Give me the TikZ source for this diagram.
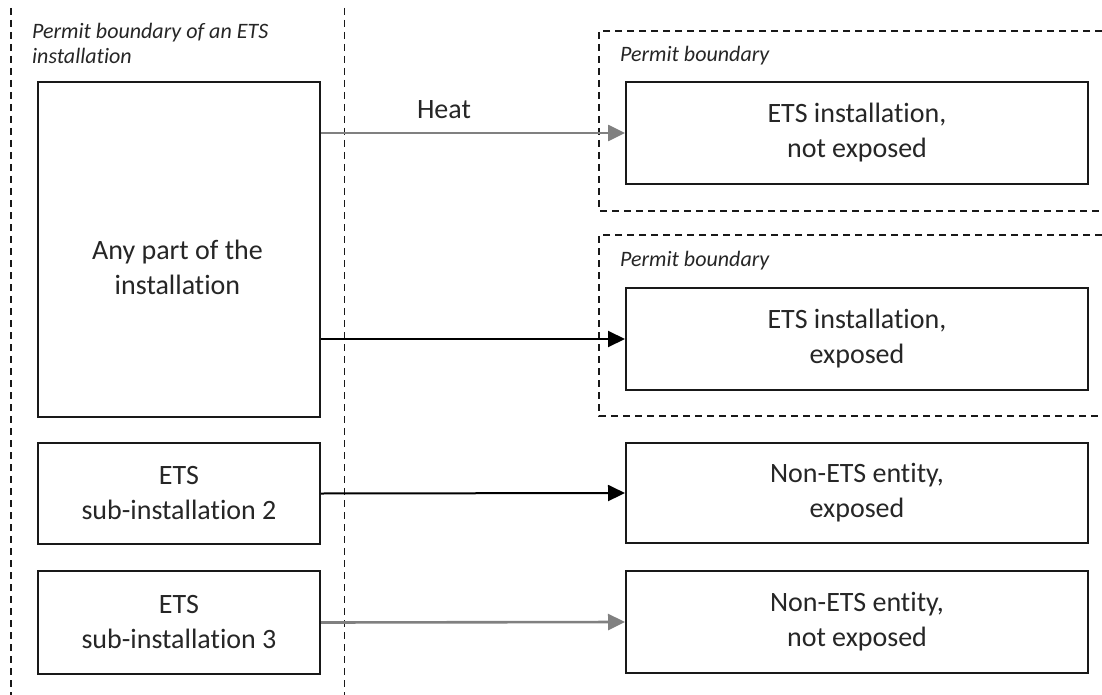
\documentclass[tikz,border=0pt]{standalone}
\usepackage{fontspec}
\setmainfont[Ligatures={NoCommon}]{Carlito}
\usetikzlibrary{arrows.meta}
\definecolor{txt}{RGB}{38,38,38}
\definecolor{arrgray}{RGB}{128,128,128}
\begin{document}
\begin{tikzpicture}[x=1pt,y=-1pt,
  box/.style={draw=black!90, line width=2pt, rectangle, anchor=north west, inner sep=0pt,
    align=center, text=txt, font=\fontsize{28}{35}\selectfont},
  boxtext/.style={text=txt, align=center, font=\fontsize{28}{35}\selectfont, inner sep=0pt},
  lbl/.style={text=txt, font=\fontsize{22}{25.5}\selectfont\itshape, anchor=base west, inner sep=0pt, align=left},
  bound/.style={line width=1.8pt, dash pattern=on 7pt off 5pt, draw=black!90},
  arr/.style={-{Triangle[length=17pt,width=16pt]}, line width=2pt, draw=black},
  garr/.style={-{Triangle[length=17pt,width=16pt]}, line width=2.6pt, draw=arrgray}
]
\useasboundingbox (0,0) rectangle (1102,695);
\fill[white] (0,0) rectangle (1102,695);

% installation boundary dashed lines
\draw[bound] (11,8) -- (11,695);
\draw[bound] (344.5,8) -- (344.5,695);
\node[lbl] (title) at (32,39) {Permit boundary of an ETS};
\node[lbl] (title2) at (32,64) {installation};

% right permit boundaries
\draw[bound] (1102,31) -- (599,31) -- (599,211) -- (1102,211);
\draw[bound] (1102,235) -- (599,235) -- (599,416) -- (1102,416);
\node[lbl] (pb1) at (620,62) {Permit boundary};
\node[lbl] (pb2) at (620,266) {Permit boundary};

% left boxes
\node[box, minimum width=282pt, minimum height=335pt] (big) at (37,81) {};
\node[boxtext] (bigtext) at (177.5,267) {Any part of the\\installation};
\node[box, minimum width=282pt, minimum height=101pt] (sub2) at (37,442) {ETS\\sub-installation 2};
\node[box, minimum width=282pt, minimum height=103pt] (sub3) at (37,570) {ETS\\sub-installation 3};

% right boxes
\node[box, minimum width=462pt, minimum height=102pt] (ets1) at (625,81) {ETS installation,\\not exposed};
\node[box, minimum width=462pt, minimum height=102pt] (ets2) at (625,287) {ETS installation,\\exposed};
\node[box, minimum width=462pt, minimum height=100pt] (non1) at (625,442) {Non-ETS entity,\\exposed};
\node[box, minimum width=462pt, minimum height=102pt] (non2) at (625,570) {Non-ETS entity,\\not exposed};

% connectors
\draw[garr] (ets1.west -| big.east) -- (ets1.west);
\node[boxtext, anchor=base] (heat) at (444,119) {Heat};
\draw[arr] (ets2.west -| big.east) -- (ets2.west);
\draw[arr] (sub2.east) -- (non1.west);
\draw[garr] (sub3.east) -- (non2.west);
\end{tikzpicture}
\end{document}
